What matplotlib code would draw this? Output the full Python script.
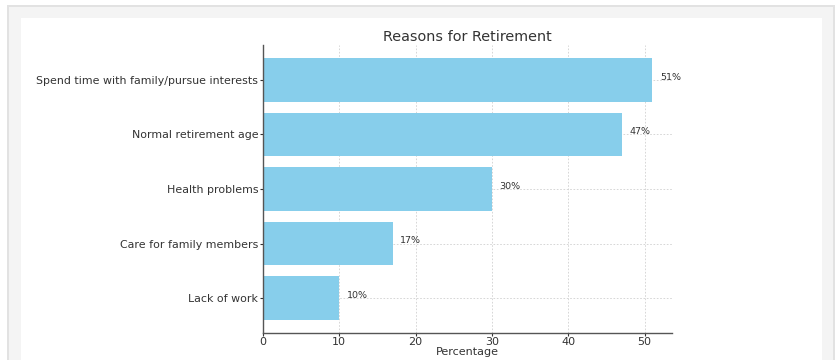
import matplotlib.pyplot as plt
from matplotlib.patches import Rectangle

reasons = [
    "Spend time with family/pursue interests",
    "Normal retirement age",
    "Health problems",
    "Care for family members",
    "Lack of work",
]
percentages = [51, 47, 30, 17, 10]

W, H = 838, 360
fig = plt.figure(figsize=(W / 100, H / 100), dpi=100)
fig.patch.set_facecolor("white")

# screenshot frame: grey border, grey fill, white panel
def px_rect(x0, y0, x1, y1, fc):
    fig.patches.append(Rectangle((x0 / W, 1 - y1 / H), (x1 - x0) / W, (y1 - y0) / H,
                                 transform=fig.transFigure, facecolor=fc,
                                 edgecolor="none", zorder=-10))

px_rect(7, 5, 835, 362, "#e2e2e2")
px_rect(9, 7, 833, 362, "#f4f4f4")
px_rect(21, 18, 822, 362, "white")

ax = fig.add_axes([263 / W, 1 - 333 / H, (671.7 - 263) / W, (333 - 45) / H])
ax.set_facecolor("none")

y = list(range(len(reasons)))[::-1]
ax.barh(y, percentages, color="#87CEEB", height=0.8, zorder=2)

for yi, v in zip(y, percentages):
    ax.text(v + 1, yi + 0.05, f"{v}%", va="center", ha="left", fontsize=6.8, color="#333333")

txt = "#333333"
ax.set_yticks(y)
ax.set_yticklabels(reasons, fontsize=7.9, color=txt)
ax.tick_params(axis="x", labelsize=8.0, colors=txt, length=2, pad=1)
ax.tick_params(axis="y", length=2, colors=txt, pad=1.5)
ax.set_xlabel("Percentage", fontsize=8.0, color=txt, labelpad=0)
ax.set_title("Reasons for Retirement", fontsize=10.4, color=txt, pad=3)

ax.grid(True, linestyle=(0, (2, 2)), color="#d0d0d0", linewidth=0.6, zorder=0)
ax.set_axisbelow(True)
for s in ["top", "right"]:
    ax.spines[s].set_visible(False)
for s in ["left", "bottom"]:
    ax.spines[s].set_color("#555555")
    ax.spines[s].set_linewidth(1.0)

fig.savefig("out.png", dpi=100)
